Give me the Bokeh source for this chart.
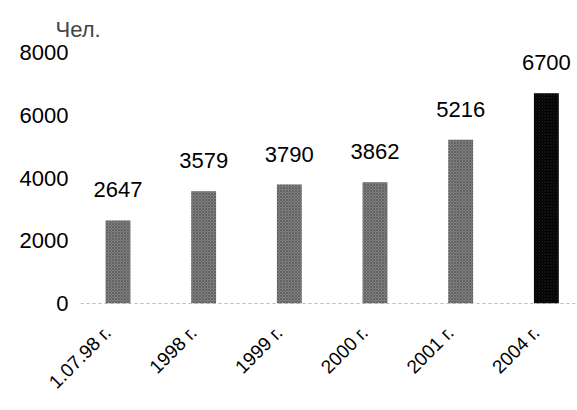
from bokeh.plotting import figure
from bokeh.models import Range1d, FixedTicker, Span, ColumnDataSource, Title, CustomJSTickFormatter
from bokeh.embed import file_html
from bokeh.resources import INLINE
import math

categories = ["1.07.98 г.", "1998 г.", "1999 г.", "2000 г.", "2001 г.", "2004 г."]
values = [2647, 3579, 3790, 3862, 5216, 6700]
y_ticks = [0, 2000, 4000, 6000, 8000]

FONT = "Liberation Sans"
xs = list(range(len(categories)))
colors = ["#808080"] * (len(values) - 1) + ["#000000"]
src = ColumnDataSource(dict(x=xs, top=values, color=colors, label=[str(v) for v in values]))

LABEL_SHIFT = 0.12  # rotated labels sit slightly left of the bar centres

p = figure(width=576, height=409, output_backend="svg", toolbar_location=None,
           x_range=Range1d(-0.4375, 5.34), y_range=Range1d(0, 8000),
           min_border_left=80, min_border_right=1, min_border_top=52, min_border_bottom=106)
p.title = Title(text="Чел.", align="left", offset=-25, text_font=FONT,
                text_font_size="22px", text_font_style="normal", standoff=22)
p.outline_line_color = None
p.grid.visible = False
p.background_fill_color = "white"

p.vbar(x="x", top="top", width=0.29, source=src, fill_color="color", line_color=None,
       hatch_pattern="diagonal_cross", hatch_color="#303030", hatch_scale=3, hatch_weight=0.6, hatch_alpha=0.6)
p.text(x="x", y="top", text="label", source=src, text_align="center", text_baseline="bottom",
       y_offset=-23, text_font_size="22px", text_font={"value": FONT}, text_color="black")

p.add_layout(Span(location=0, dimension="width", line_color="#777777", line_dash="3 3", line_width=1))

p.yaxis.ticker = FixedTicker(ticks=y_ticks)
p.yaxis.axis_line_color = None
p.yaxis.major_tick_line_color = None
p.yaxis.major_tick_out = 0
p.yaxis.major_tick_in = 0
p.yaxis.minor_tick_line_color = None
p.yaxis.major_label_standoff = 12
p.yaxis.major_label_text_font = FONT
p.yaxis.major_label_text_font_size = "22px"
p.yaxis.major_label_text_color = "black"

p.xaxis.ticker = FixedTicker(ticks=[x - LABEL_SHIFT for x in xs])
p.xaxis.formatter = CustomJSTickFormatter(args=dict(cats=categories, shift=LABEL_SHIFT),
                                          code="return cats[Math.round(tick + shift)];")
p.xaxis.axis_line_color = None
p.xaxis.major_tick_line_color = None
p.xaxis.major_tick_out = 0
p.xaxis.major_tick_in = 0
p.xaxis.minor_tick_line_color = None
p.xaxis.major_label_orientation = math.pi / 4
p.xaxis.major_label_standoff = 26
p.xaxis.major_label_text_font = FONT
p.xaxis.major_label_text_font_size = "19px"
p.xaxis.major_label_text_color = "black"

open("out.html", "w").write(file_html(p, INLINE))
